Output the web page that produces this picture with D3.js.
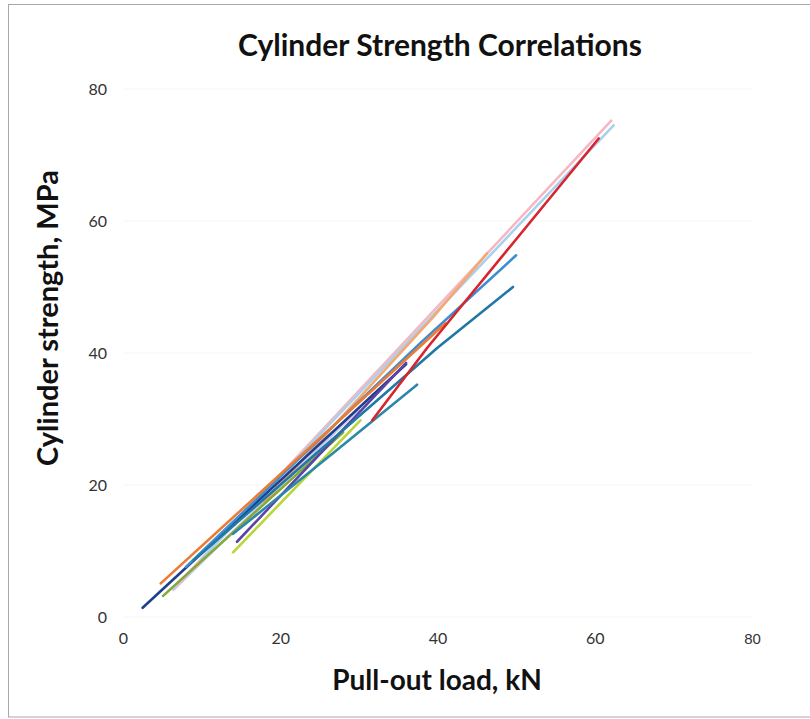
<!DOCTYPE html>
<html><head><meta charset="utf-8">
<script src="https://cdn.jsdelivr.net/npm/d3@7"></script>
<style>body{margin:0;background:#fff}svg{display:block}</style>
</head><body>
<script>
// ---- data ----
const xTicks = [0, 20, 40, 60, 80];
const yTicks = [0, 20, 40, 60, 80];
const seriesNames = ["navy","orange","olive","lavender","purple","yellowgreen","red","steelblue","teal","shortteal","pink","lightblue","peach"];
const seriesColors = ["#1d3f8e","#ee7b34","#86a838","#c8c8ec","#5a44a6","#b8d638","#d8242c","#3b8ed0","#1f78a6","#2c87aa","#f5b7c2","#a9d1ee","#f4a872"];
// [pull-out load kN, cylinder strength MPa] per correlation line
const navyPts       = [[2.5,1.4],[36.0,38.3]];
const orangePts     = [[4.8,5.1],[23.4,25.3],[41.0,44.5]];
const olivePts      = [[5.1,3.2],[28.0,28.0]];
const lavenderPts   = [[6.4,4.1],[30.0,31.5]];
const purplePts     = [[14.5,11.4],[36.0,38.5]];
const yellowgreenPts= [[14.0,9.8],[30.2,29.8]];
const redPts        = [[31.7,29.8],[38.7,40.8],[60.5,72.5]];
const steelbluePts  = [[8.0,7.6],[37.8,41.5],[50.0,54.8]];
const tealPts       = [[9.0,8.6],[40.0,40.8],[49.6,50.0]];
const shorttealPts  = [[14.0,12.6],[26.7,24.8],[37.4,35.2]];
const pinkPts       = [[7.0,5.0],[35.2,40.9],[62.1,75.2]];
const lightbluePts  = [[10.0,8.8],[62.4,74.5]];
const peachPts      = [[18.0,17.5],[39.5,45.5],[46.3,55.1]];
const seriesPts = [navyPts, orangePts, olivePts, lavenderPts, purplePts, yellowgreenPts, redPts, steelbluePts, tealPts, shorttealPts, pinkPts, lightbluePts, peachPts];
const drawOrder = [3,10,11,12,2,0,5,4,7,9,8,1,6];

const W = 810, H = 719;
const svg = d3.select("body").append("svg").attr("width", W).attr("height", H);
const font = "Lato, 'Noto Sans', sans-serif";

// frame
svg.append("rect").attr("x", 8.5).attr("y", 4.5).attr("width", 840).attr("height", 712.5)
  .attr("fill", "none").attr("stroke", "#a8a8a8").attr("stroke-width", 1);

const x = d3.scaleLinear().domain([0, 80]).range([123, 752]);
const y = d3.scaleLinear().domain([0, 80]).range([617, 89]);

// very faint gridlines
svg.append("g").selectAll("line").data(yTicks).join("line")
  .attr("x1", x(0)).attr("x2", x(80)).attr("y1", d => y(d)).attr("y2", d => y(d))
  .attr("stroke", "#f6f6f6").attr("stroke-width", 1);

// axes (labels only)
const xAxis = d3.axisBottom(x).tickValues(xTicks).tickSize(0).tickPadding(0);
const yAxis = d3.axisLeft(y).tickValues(yTicks).tickSize(0).tickPadding(0);
const gx = svg.append("g").attr("transform", "translate(0,633)").call(xAxis);
const gy = svg.append("g").attr("transform", "translate(107,0)").call(yAxis);
[gx, gy].forEach(a => {
  a.select(".domain").remove();
  a.selectAll("text").attr("font-family", font).attr("font-size", 16).attr("fill", "#333");
});
gy.selectAll("text").attr("dy", "0.35em");
gx.selectAll("text").filter(d => d === 80).attr("font-family", "'Liberation Sans', Arial, sans-serif").attr("font-size", 15);

// lines
const line = d3.line().x(d => x(d[0])).y(d => y(d[1]));
svg.append("g").selectAll("path").data(drawOrder).join("path")
  .attr("d", i => line(seriesPts[i]))
  .attr("stroke", i => seriesColors[i]).attr("stroke-width", 2.6)
  .attr("stroke-linecap", "round").attr("stroke-linejoin", "round").attr("fill", "none");

// titles
svg.append("text").attr("x", 440).attr("y", 56).attr("text-anchor", "middle")
  .attr("font-family", font).attr("font-weight", "bold").attr("font-size", 30).attr("fill", "#111")
  .text("Cylinder Strength Correlations");
svg.append("text").attr("x", 437).attr("y", 690).attr("text-anchor", "middle")
  .attr("font-family", font).attr("font-weight", "bold").attr("font-size", 28).attr("fill", "#111")
  .text("Pull-out load, kN");
svg.append("text").attr("transform", "translate(58,318) rotate(-90)").attr("text-anchor", "middle")
  .attr("font-family", font).attr("font-weight", "bold").attr("font-size", 29).attr("fill", "#111")
  .text("Cylinder strength, MPa");
</script>
</body></html>
